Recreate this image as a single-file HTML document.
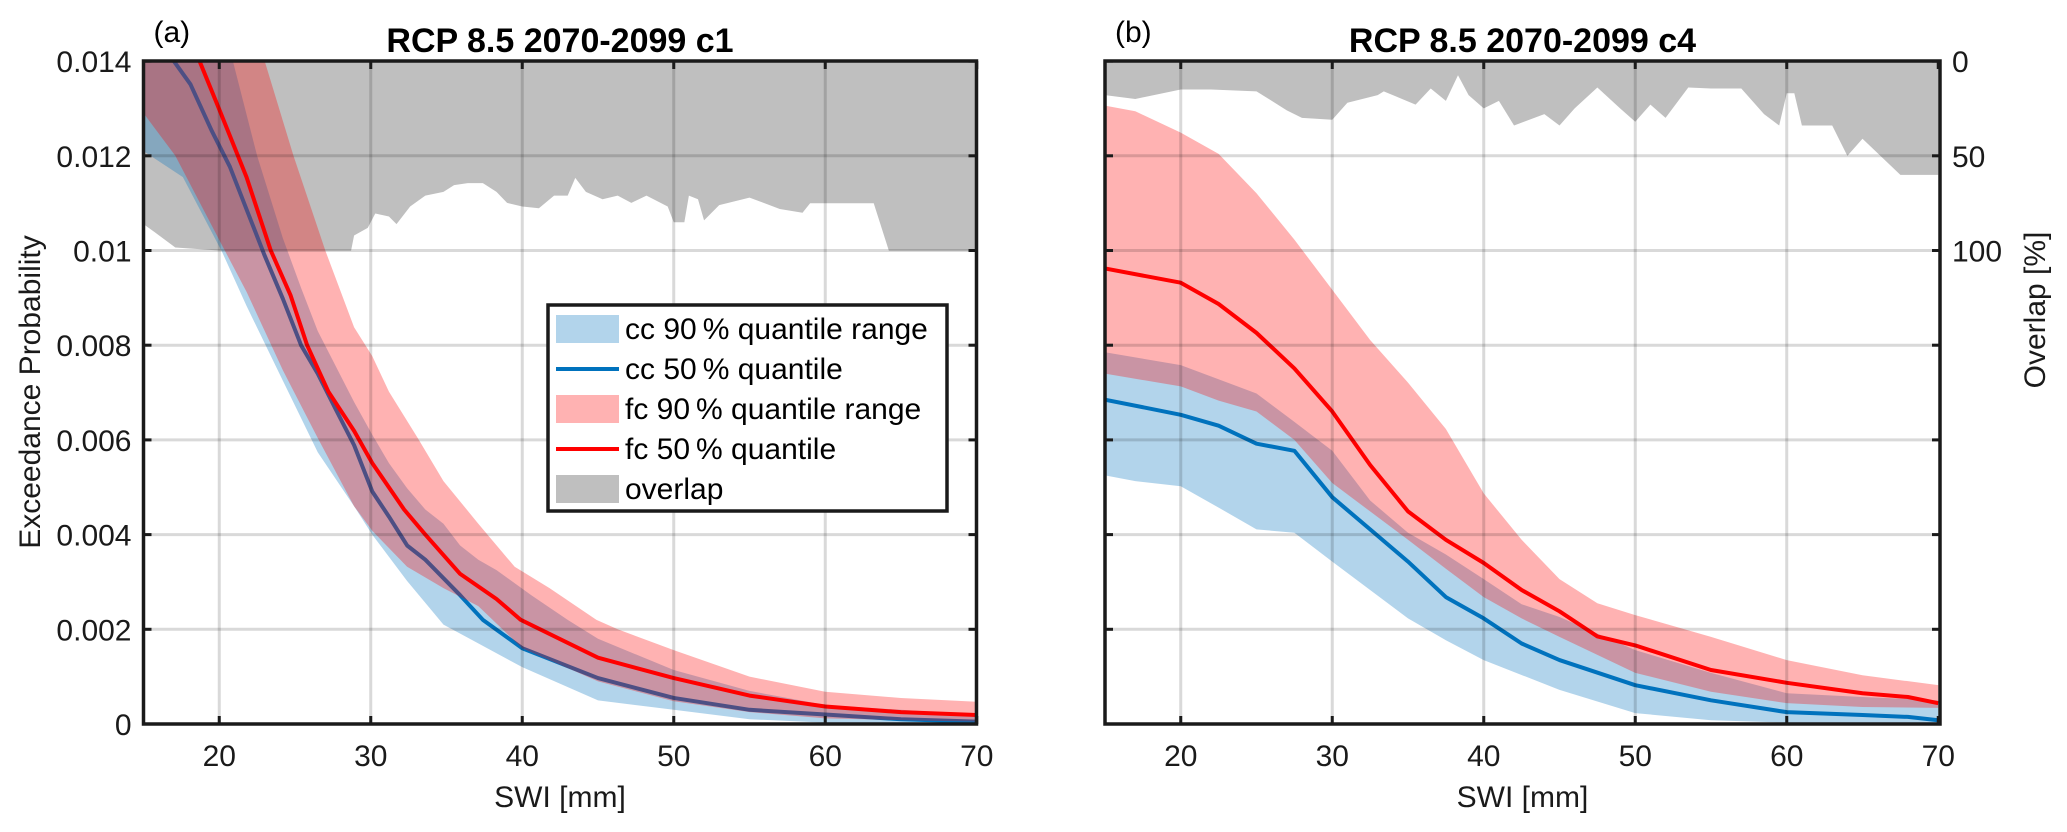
<!DOCTYPE html>
<html><head><meta charset="utf-8">
<style>
html,body{margin:0;padding:0;background:#fff;}
svg{display:block;font-family:"Liberation Sans",Arial,sans-serif;}
</style></head>
<body>
<svg id="fig" width="2067" height="832" viewBox="0 0 2067 832" xmlns="http://www.w3.org/2000/svg">
<defs>
<clipPath id="clipA"><rect x="143.5" y="61" width="833" height="663"/></clipPath>
<clipPath id="clipB"><rect x="1105" y="61" width="835" height="663"/></clipPath>
</defs>
</svg>
<script>
// ---------- Data: panel (a) c1 ----------
const aFcMedX=[15,18.7,20.0,21.8,23.4,24.7,25.8,27.2,28.9,30.1,32.2,33.6,35.9,38.3,39.9,45,50,55,60,65,70];
const aFcMedY=[0.0175,0.0140,0.01298,0.01155,0.0100,0.00906,0.0080,0.00702,0.00619,0.00551,0.00453,0.0040,0.00317,0.00264,0.0022,0.0014,0.00097,0.0006,0.00037,0.00025,0.00019];
const aCcMedX=[15,17.0,18.1,19.5,20.7,21.8,23.0,24.2,25.4,26.5,27.7,28.9,30.1,31.2,32.4,33.6,35.9,37.4,40,45,50,55,60,65,70];
const aCcMedY=[0.0155,0.0140,0.01351,0.01253,0.01177,0.01087,0.00989,0.00898,0.0080,0.0074,0.00664,0.00589,0.00491,0.00438,0.00377,0.00347,0.00272,0.0022,0.0016,0.00097,0.00055,0.0003,0.0002,0.0001,0.00005];
const aFcUpX=[15,23.0,24.9,27.0,28.9,30.1,31.2,33.1,34.8,37.1,39.5,41.8,44.9,46.3,50,55,60,65,70];
const aFcUpY=[0.020,0.0140,0.0120,0.0100,0.00838,0.00777,0.00702,0.00604,0.00513,0.00423,0.00332,0.00287,0.0022,0.0020,0.00156,0.0010,0.00068,0.00055,0.00047];
const aFcLoX=[15,17.1,20.2,21.8,24.2,26.5,28.9,30.1,32.4,34.8,37.1,40,45,50,55,60,65,70];
const aFcLoY=[0.0129,0.0120,0.0101,0.00913,0.00747,0.00604,0.0046,0.00408,0.00332,0.00287,0.00249,0.0016,0.0009,0.00048,0.00025,0.00012,0.00008,0.00005];
const aCcUpX=[15,20.9,22.5,24.2,25.4,26.5,27.7,28.9,30.1,31.2,32.4,33.6,34.8,35.9,37.1,38.3,40.6,43.0,45,50,55,60,65,70];
const aCcUpY=[0.018,0.0140,0.0120,0.01026,0.00921,0.0083,0.00755,0.0068,0.00611,0.00551,0.00498,0.00453,0.00423,0.00377,0.00347,0.00325,0.00272,0.0022,0.0018,0.00114,0.0007,0.0004,0.0003,0.0002];
const aCcLoX=[15,17.6,20.2,21.8,24.2,26.5,28.9,30.1,32.4,34.8,40,45,50,55,60,70];
const aCcLoY=[0.0121,0.01155,0.00996,0.00883,0.00725,0.00574,0.0046,0.0040,0.00302,0.0021,0.0012,0.0005,0.0003,0.0001,0.00003,0.0];
const aOvX=[15,15.7,17.1,18.3,20.2,28.7,28.9,29.8,30.3,31.2,31.7,32.6,33.6,34.8,35.5,36.4,37.4,38.3,39.0,40.0,41.1,42.1,43.0,43.5,44.2,45.3,46.3,47.2,48.2,49.6,50.0,50.7,51.0,51.6,52,53,55,57,58.5,59,63.2,64.2,70];
const aOvP=[86,90,98.3,99,100,100,92,88,80.4,82,86,76.7,71,69,65.4,64.4,64.4,69,74.8,76.7,77.6,71,71,61.6,69,72.9,71,74.8,71,76.7,85,85,71,72.9,84,76,72,78,80,75,75,100,100];

// ---------- Data: panel (b) c4 ----------
const bFcMedX=[15,20,22.5,25,27.5,30,32.5,35,37.5,40,42.5,45,47.5,50,55,60,65,68,70];
const bFcMedY=[0.00962,0.00932,0.00887,0.00826,0.00751,0.0066,0.00547,0.00449,0.00389,0.0034,0.00283,0.00238,0.00185,0.00166,0.00114,0.00087,0.00065,0.00057,0.00044];
const bFcUpX=[15,17,20,22.5,25,27.5,30,32.5,35,37.5,40,42.5,45,47.5,50,55,60,65,70];
const bFcUpY=[0.01306,0.01294,0.01249,0.01204,0.01121,0.01023,0.00917,0.00811,0.00721,0.00623,0.00487,0.00389,0.00306,0.00255,0.0023,0.00184,0.00135,0.00103,0.00082];
const bFcLoX=[15,20,22.5,25,27.5,30,32.5,35,37.5,40,42.5,45,50,55,60,65,70];
const bFcLoY=[0.0074,0.00713,0.00683,0.0066,0.0060,0.00509,0.00449,0.00389,0.00328,0.00268,0.00223,0.00184,0.00108,0.00068,0.00044,0.00036,0.00034];
const bCcUpX=[15,20,25,27.5,30,32.5,35,37.5,40,42.5,45,50,55,60,65,70];
const bCcUpY=[0.00785,0.00758,0.00698,0.00638,0.00577,0.00472,0.00404,0.00358,0.00306,0.00253,0.00226,0.00156,0.00108,0.00065,0.00057,0.0005];
const bCcMedX=[15,20,22.5,25,27.5,30,32.5,35,37.5,40,42.5,45,50,55,60,65,68,70];
const bCcMedY=[0.00685,0.00653,0.0063,0.00592,0.00577,0.00479,0.00411,0.00343,0.00268,0.00223,0.0017,0.00135,0.00082,0.0005,0.00025,0.00019,0.00015,0.00008];
const bCcLoX=[15,17,20,22.5,25,27.5,30,32.5,35,37.5,40,45,50,55,60,70];
const bCcLoY=[0.00525,0.00513,0.00502,0.00457,0.00411,0.00404,0.00343,0.00283,0.00223,0.00177,0.00135,0.00072,0.00023,0.00008,0.00003,0.00002];
const bOvX=[15,17,20,22,25,27,28,30,31,33,33.4,35.5,36.5,37.5,38.3,39,40,41,42,44,45,46,47.5,49,50,51,52,53.5,55,57,58.5,59.5,60,60.5,61,63,64,65,67.5,70];
const bOvP=[18,20,15,15,16,26,30,31,22,18,16,23,14.5,21,7.5,18,25,21,34,28,34,25,14,25,32,23,30,14,14.5,14.5,28,34,17,17,34,34,50,41,60,60];

// ---------- Axes ----------
const xTicks=[20,30,40,50,60,70];
const yTicks=[0,0.002,0.004,0.006,0.008,0.01,0.012,0.014];
const yTickLabels=["0","0.002","0.004","0.006","0.008","0.01","0.012","0.014"];
const ovTicks=[0,50,100];

const NS="http://www.w3.org/2000/svg";
const svg=document.getElementById('fig');
const TOP=61, BOT=724;
function Y(v){return BOT-v*47350;}
function Yo(p){return TOP+p*1.897;}
function mkX(x0){return x=>x0+(x-15)*15.15;}
function el(tag,attrs,parent){const e=document.createElementNS(NS,tag);for(const k in attrs)e.setAttribute(k,attrs[k]);(parent||svg).appendChild(e);return e;}
function txt(x,y,s,attrs,parent){const t=el('text',Object.assign({x:x,y:y},attrs),parent);t.textContent=s;return t;}

function bandPath(X,xu,yu,xl,yl){
  let d='M'+X(xu[0])+','+Y(yu[0]);
  for(let i=1;i<xu.length;i++)d+=' L'+X(xu[i])+','+Y(yu[i]);
  for(let i=xl.length-1;i>=0;i--)d+=' L'+X(xl[i])+','+Y(yl[i]);
  return d+' Z';
}
function linePath(X,xs,ys){let d='';for(let i=0;i<xs.length;i++)d+=(i?' L':'M')+X(xs[i])+','+Y(ys[i]);return d;}
function ovPath(X,xs,ps){let d='M'+X(xs[0])+','+TOP;for(let i=0;i<xs.length;i++)d+=' L'+X(xs[i])+','+Yo(ps[i]);d+=' L'+X(xs[xs.length-1])+','+TOP+' Z';return d;}

function panel(id,x0,x1,clip,title,letter,D,rightLabels){
  const X=mkX(x0);
  const g=el('g',{});
  
  
  const pg=el('g',{'clip-path':'url(#'+clip+')'},g);
  const ov=el('path',{d:ovPath(X,D.ovX,D.ovP),fill:'#bfbfbf'},pg);
  
  
  const cb=el('path',{d:bandPath(X,D.ccUpX,D.ccUpY,D.ccLoX,D.ccLoY),fill:'#0072bd','fill-opacity':0.3},pg);
  
  
  const cl=el('path',{d:linePath(X,D.ccMedX,D.ccMedY),fill:'none',stroke:'#0072bd','stroke-width':4,'stroke-linejoin':'round'},pg);
  
  
  const fb=el('path',{d:bandPath(X,D.fcUpX,D.fcUpY,D.fcLoX,D.fcLoY),fill:'#ff0000','fill-opacity':0.3},pg);
  
  
  const fl=el('path',{d:linePath(X,D.fcMedX,D.fcMedY),fill:'none',stroke:'#ff0000','stroke-width':4,'stroke-linejoin':'round'},pg);
  
  
  for(const t of xTicks){ if(t<70){const l=el('line',{x1:X(t),x2:X(t),y1:TOP,y2:BOT,stroke:'#000','stroke-opacity':0.15,'stroke-width':3},g);
    
    }}
  for(const t of yTicks){ if(t>0&&t<0.014){const l=el('line',{x1:x0,x2:x1,y1:Y(t),y2:Y(t),stroke:'#000','stroke-opacity':0.15,'stroke-width':3},g);
    
    }}
  for(const t of xTicks){
    el('line',{x1:X(t),x2:X(t),y1:BOT,y2:BOT-8,stroke:'#1a1a1a','stroke-width':3},g);
    el('line',{x1:X(t),x2:X(t),y1:TOP,y2:TOP+8,stroke:'#1a1a1a','stroke-width':3},g);
    const tl=txt(X(t),766,String(t),{'font-size':30,'text-anchor':'middle',fill:'#1a1a1a'},g);
    
    
  }
  yTicks.forEach((t,i)=>{
    el('line',{x1:x0,x2:x0+8,y1:Y(t),y2:Y(t),stroke:'#1a1a1a','stroke-width':3},g);
    el('line',{x1:x1,x2:x1-8,y1:Y(t),y2:Y(t),stroke:'#1a1a1a','stroke-width':3},g);
    if(id==='a'){const tl=txt(x0-12,Y(t)+11,yTickLabels[i],{'font-size':30,'text-anchor':'end',fill:'#1a1a1a'},g);
      
      }
  });
  if(rightLabels){
    for(const p of ovTicks){const tl=txt(x1+12,Yo(p)+11,String(p),{'font-size':30,fill:'#1a1a1a'},g);
      
      }
  }
  const box=el('rect',{x:x0,y:TOP,width:x1-x0,height:BOT-TOP,fill:'none',stroke:'#1a1a1a','stroke-width':3.5},g);
  
  
  const tt=txt((x0+x1)/2,52,title,{'font-size':34,'font-weight':'bold','text-anchor':'middle',fill:'#000'},g);
  
  
  const lt=txt(x0+10,42,letter,{'font-size':30,fill:'#000'},g);
  
  
  const xl=txt((x0+x1)/2,807,'SWI [mm]',{'font-size':30,'text-anchor':'middle',fill:'#1a1a1a'},g);
  
  
}

panel('a',143.5,976.5,'clipA','RCP 8.5 2070-2099 c1','(a)',
 {ovX:aOvX,ovP:aOvP,ccUpX:aCcUpX,ccUpY:aCcUpY,ccLoX:aCcLoX,ccLoY:aCcLoY,ccMedX:aCcMedX,ccMedY:aCcMedY,
  fcUpX:aFcUpX,fcUpY:aFcUpY,fcLoX:aFcLoX,fcLoY:aFcLoY,fcMedX:aFcMedX,fcMedY:aFcMedY},false);
panel('b',1105,1940,'clipB','RCP 8.5 2070-2099 c4','(b)',
 {ovX:bOvX,ovP:bOvP,ccUpX:bCcUpX,ccUpY:bCcUpY,ccLoX:bCcLoX,ccLoY:bCcLoY,ccMedX:bCcMedX,ccMedY:bCcMedY,
  fcUpX:bFcUpX,fcUpY:bFcUpY,fcLoX:bFcLoX,fcLoY:bFcLoY,fcMedX:bFcMedX,fcMedY:bFcMedY},true);

const yl=txt(0,0,'Exceedance Probability',{'font-size':30,'text-anchor':'middle',fill:'#1a1a1a',transform:'translate(40,392) rotate(-90)'});


const ol=txt(0,0,'Overlap [%]',{'font-size':30,'text-anchor':'middle',fill:'#1a1a1a',transform:'translate(2045,310) rotate(-90)'});



const lg=el('g',{});


el('rect',{x:548,y:305,width:399,height:206,fill:'#fff',stroke:'#1a1a1a','stroke-width':3.5},lg);
const legLabels=['cc 90\u2009% quantile range','cc 50\u2009% quantile','fc 90\u2009% quantile range','fc 50\u2009% quantile','overlap'];
const legKinds=['patch','line','patch','line','patch'];
const legColors=['#b2d4eb','#0072bd','#ffb2b2','#ff0000','#bfbfbf'];
const legNames=['legend-cc-90-range','legend-cc-50','legend-fc-90-range','legend-fc-50','legend-overlap'];
legLabels.forEach((s,i)=>{
  const cy=329+i*40;
  const e=el('g',{},lg);
  
  
  if(legKinds[i]==='patch') el('rect',{x:556,y:cy-14,width:63,height:28,fill:legColors[i]},e);
  else el('line',{x1:556,x2:619,y1:cy,y2:cy,stroke:legColors[i],'stroke-width':4},e);
  txt(625,cy+10,s,{'font-size':30,fill:'#000'},e);
});
</script>
</body></html>
